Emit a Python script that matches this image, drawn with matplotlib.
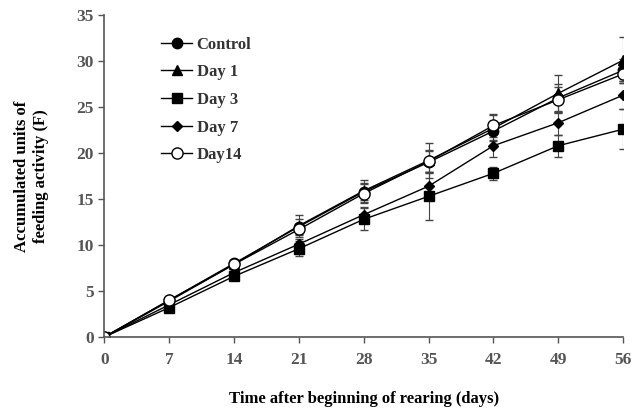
import matplotlib
matplotlib.use("Agg")
import matplotlib.pyplot as plt

days = [0, 7, 14, 21, 28, 35, 42, 49, 56]

control = [0, 4.0, 8.0, 12.0, 15.8, 19.0, 22.4, 26.0, 29.0]
day1 = [0, 3.9, 7.9, 12.1, 15.9, 19.2, 22.7, 26.5, 30.1]
day3 = [0, 3.2, 6.6, 9.6, 12.8, 15.3, 17.8, 20.8, 22.6]
day7 = [0, 3.5, 7.0, 10.1, 13.3, 16.4, 20.8, 23.3, 26.3]
day14 = [0, 4.0, 7.9, 11.7, 15.6, 19.1, 23.0, 25.8, 28.6]

control_err = [0, 0.3, 0.4, 0.8, 0.9, 1.2, 1.0, 1.5, 1.2]
day1_err = [0, 0.3, 0.4, 1.2, 1.2, 1.9, 1.4, 2.0, 2.5]
day3_err = [0, 0.2, 0.3, 0.8, 1.2, 2.6, 0.7, 1.2, 2.2]
day7_err = [0, 0.2, 0.3, 0.6, 0.8, 1.5, 1.2, 1.3, 1.5]
day14_err = [0, 0.2, 0.3, 0.6, 1.0, 1.2, 1.2, 1.4, 1.0]

series = [
    ("Control", control, control_err, "o", "black", 7.5),
    ("Day 1", day1, day1_err, "^", "black", 7.5),
    ("Day 3", day3, day3_err, "s", "black", 7),
    ("Day 7", day7, day7_err, "D", "black", 5.5),
    ("Day14", day14, day14_err, "o", "white", 8),
]

plt.rcParams["font.family"] = ["Liberation Serif", "DejaVu Serif"]
plt.rcParams["font.weight"] = "bold"

fig = plt.figure(figsize=(6.32, 4.09), dpi=100)
ax = fig.add_axes([0.165, 0.176, 0.821, 0.787])

handles = []
names = []
for name, vals, err, mk, fc, ms in series:
    c = ax.errorbar(days, vals, yerr=err, color="black", ecolor="#444444",
                    elinewidth=0.8, capsize=3, capthick=0.8, lw=1.0,
                    marker=mk, ms=ms, mfc=fc, mec="black", mew=1.0)
    handles.append(c[0])
    names.append(name)

ax.set_xlim(0, 56)
ax.set_ylim(0, 35)
ax.set_xticks(days)
ax.set_yticks(range(0, 36, 5))
ax.tick_params(colors="#555555", labelcolor="#555555", labelsize=12.5,
               direction="out", length=4, width=1)
for lab in ax.get_xticklabels() + ax.get_yticklabels():
    lab.set_fontweight("bold")
for s in ["top", "right"]:
    ax.spines[s].set_visible(False)
for s in ["left", "bottom"]:
    ax.spines[s].set_color("#555555")
    ax.spines[s].set_linewidth(1.2)
ax.xaxis.set_tick_params(pad=7)

ax.set_xlabel("Time after beginning of rearing (days)", fontsize=12,
              fontweight="bold", labelpad=16)
ax.set_ylabel("Accumulated units of\nfeeding activity (F)", fontsize=12,
              fontweight="bold", labelpad=20)

leg = ax.legend(handles, names, loc="upper left",
                bbox_to_anchor=(0.08, 0.98), frameon=False,
                fontsize=12, handlelength=1.9, handletextpad=0.25,
                labelspacing=0.7)
for t in leg.get_texts():
    t.set_color("#333333")

fig.savefig("out.png", dpi=100)
